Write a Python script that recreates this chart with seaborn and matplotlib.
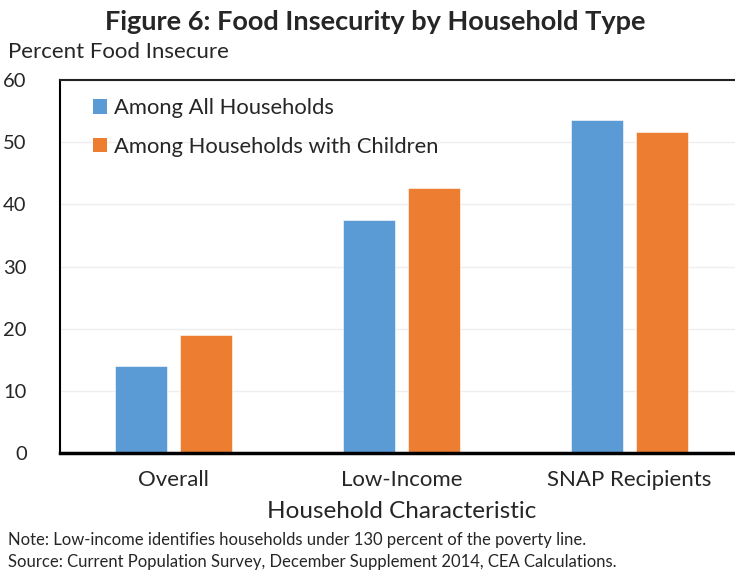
import matplotlib
matplotlib.use("Agg")
import matplotlib.pyplot as plt
import seaborn as sns
import pandas as pd
from matplotlib.patches import Patch

# Data
categories = ["Overall", "Low-Income", "SNAP Recipients"]
series_names = ["Among All Households", "Among Households with Children"]
all_households = [14.0, 37.4, 53.6]
with_children = [19.0, 42.7, 51.7]
y_ticks = [0, 10, 20, 30, 40, 50, 60]

colors = ["#5B9BD5", "#ED7D31"]

df = pd.DataFrame({
    "category": categories * 2,
    "series": [series_names[0]] * 3 + [series_names[1]] * 3,
    "value": all_households + with_children,
})

sns.set_theme(style="white")
plt.rcParams["font.family"] = ["Lato", "DejaVu Sans"]

W, H = 735, 571
fig = plt.figure(figsize=(W / 100, H / 100), dpi=100)
left, right, top, bottom = 60, 743, 80, 453
ax = fig.add_axes([left / W, 1 - bottom / H, (right - left) / W, (bottom - top) / H])

sns.barplot(data=df, x="category", y="value", hue="series", order=categories,
            hue_order=series_names, palette=colors, width=0.57, gap=0.2,
            saturation=1, ax=ax, legend=False, errorbar=None,
            edgecolor="white", linewidth=0.4)

ax.set_xlim(-0.5, 2.5)
ax.set_ylim(0, 60)
ax.set_yticks(y_ticks)
ax.set_yticklabels([str(t) for t in y_ticks], fontsize=14.5)
ax.yaxis.grid(True, color="#efefef", linewidth=1)
ax.set_axisbelow(True)
ax.tick_params(axis="y", direction="in", length=6, width=1.2, color="black", pad=24)
ax.set_xticks(range(len(categories)))
ax.set_xticklabels(categories, fontsize=16)
ax.tick_params(axis="x", length=0, pad=12)
ax.set_xticks([0.5, 1.5], minor=True)
ax.tick_params(axis="x", which="minor", direction="in", length=7, width=1.5, color="black")

for s in ["left", "bottom", "top", "right"]:
    ax.spines[s].set_visible(True)
    ax.spines[s].set_color("black")
ax.spines["left"].set_linewidth(1.5)
ax.spines["bottom"].set_linewidth(2.5)
ax.spines["top"].set_linewidth(1.5)
ax.spines["top"].set_color("#222222")

ax.set_xlabel("Household Characteristic", fontsize=17.5, labelpad=8)
ax.set_ylabel("")

handles = [Patch(facecolor=c, edgecolor="none") for c in colors]
ax.legend(handles, series_names, loc="upper left", bbox_to_anchor=(0.035, 0.975),
          frameon=False, fontsize=15.8, handlelength=0.65, handleheight=0.65,
          handletextpad=0.3, labelspacing=0.85, borderaxespad=0)

fig.text(375 / W, 1 - 22 / H, "Figure 6: Food Insecurity by Household Type",
         ha="center", va="center", fontsize=19.5, fontweight="bold")
fig.text(8 / W, 1 - 52 / H, "Percent Food Insecure", ha="left", va="center", fontsize=16)
fig.text(8 / W, 1 - 540 / H,
         "Note: Low-income identifies households under 130 percent of the poverty line.",
         ha="left", va="center", fontsize=12)
fig.text(8 / W, 1 - 562 / H,
         "Source: Current Population Survey, December Supplement 2014, CEA Calculations.",
         ha="left", va="center", fontsize=12)

fig.savefig("out.png", dpi=100)
